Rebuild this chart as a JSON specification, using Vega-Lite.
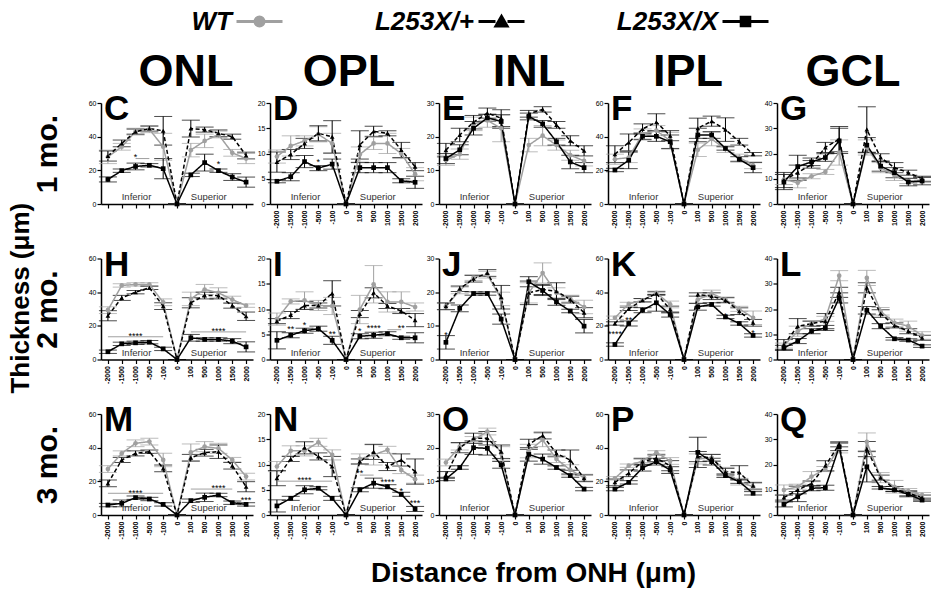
{
"$schema":"https://vega.github.io/schema/vega-lite/v6.json",
"padding":{"left":8,"top":8,"right":0,"bottom":2},
"title":{"text":"Thickness (μm)","orient":"left","anchor":"middle","fontSize":26,"font":"Liberation Sans","fontWeight":"bold","color":"#000000","offset":-2},
"columns":5,
"spacing":{"row":54.5,"column":17},
"bounds":"flush",
"resolve":{"scale":{"shape":"independent","fill":"independent","stroke":"independent"}},
"datasets":{
"io":[{"t":"Inferior","pos":"-1500","y":0},{"t":"Superior","pos":"100","y":0}],
"C":[
{"geno":"WT","pos":"-2000","mean":28,"sem":4},{"geno":"WT","pos":"-1500","mean":34,"sem":2},{"geno":"WT","pos":"-1000","mean":43,"sem":2},{"geno":"WT","pos":"-500","mean":44.4,"sem":2},{"geno":"WT","pos":"-100","mean":34,"sem":8},{"geno":"WT","pos":"0","mean":0,"sem":0},{"geno":"WT","pos":"100","mean":32,"sem":4},{"geno":"WT","pos":"500","mean":37.5,"sem":4},{"geno":"WT","pos":"1000","mean":41.3,"sem":2},{"geno":"WT","pos":"1500","mean":30.4,"sem":2},{"geno":"WT","pos":"2000","mean":27,"sem":3},
{"geno":"L253X/+","pos":"-2000","mean":28.5,"sem":3},{"geno":"L253X/+","pos":"-1500","mean":36,"sem":2},{"geno":"L253X/+","pos":"-1000","mean":43,"sem":1.5},{"geno":"L253X/+","pos":"-500","mean":44.8,"sem":1.5},{"geno":"L253X/+","pos":"-100","mean":43.5,"sem":8.5},{"geno":"L253X/+","pos":"0","mean":0,"sem":0},{"geno":"L253X/+","pos":"100","mean":44.8,"sem":5},{"geno":"L253X/+","pos":"500","mean":44.2,"sem":1.5},{"geno":"L253X/+","pos":"1000","mean":42,"sem":2},{"geno":"L253X/+","pos":"1500","mean":40,"sem":1.5},{"geno":"L253X/+","pos":"2000","mean":28.8,"sem":2},
{"geno":"L253X/X","pos":"-2000","mean":14.6,"sem":1.5},{"geno":"L253X/X","pos":"-1500","mean":19.8,"sem":1},{"geno":"L253X/X","pos":"-1000","mean":22.3,"sem":2},{"geno":"L253X/X","pos":"-500","mean":23,"sem":1},{"geno":"L253X/X","pos":"-100","mean":21,"sem":6},{"geno":"L253X/X","pos":"0","mean":0,"sem":0},{"geno":"L253X/X","pos":"100","mean":17.3,"sem":1},{"geno":"L253X/X","pos":"500","mean":24.6,"sem":5},{"geno":"L253X/X","pos":"1000","mean":19.8,"sem":1},{"geno":"L253X/X","pos":"1500","mean":16,"sem":2},{"geno":"L253X/X","pos":"2000","mean":13,"sem":3}],
"D":[
{"geno":"WT","pos":"-2000","mean":9.4,"sem":1.3},{"geno":"WT","pos":"-1500","mean":11.5,"sem":2},{"geno":"WT","pos":"-1000","mean":12.5,"sem":1},{"geno":"WT","pos":"-500","mean":13.8,"sem":1.5},{"geno":"WT","pos":"-100","mean":12,"sem":2},{"geno":"WT","pos":"0","mean":0,"sem":0},{"geno":"WT","pos":"100","mean":9.8,"sem":1.5},{"geno":"WT","pos":"500","mean":12,"sem":1.2},{"geno":"WT","pos":"1000","mean":12,"sem":2},{"geno":"WT","pos":"1500","mean":10,"sem":1},{"geno":"WT","pos":"2000","mean":5.9,"sem":1.3},
{"geno":"L253X/+","pos":"-2000","mean":8.3,"sem":2},{"geno":"L253X/+","pos":"-1500","mean":9.8,"sem":1},{"geno":"L253X/+","pos":"-1000","mean":12,"sem":1},{"geno":"L253X/+","pos":"-500","mean":14,"sem":1.5},{"geno":"L253X/+","pos":"-100","mean":13.3,"sem":3.2},{"geno":"L253X/+","pos":"0","mean":0,"sem":0},{"geno":"L253X/+","pos":"100","mean":11.7,"sem":2.8},{"geno":"L253X/+","pos":"500","mean":14.4,"sem":1},{"geno":"L253X/+","pos":"1000","mean":14,"sem":0.5},{"geno":"L253X/+","pos":"1500","mean":10.7,"sem":1.5},{"geno":"L253X/+","pos":"2000","mean":7.4,"sem":0.8},
{"geno":"L253X/X","pos":"-2000","mean":4.5,"sem":0.3},{"geno":"L253X/X","pos":"-1500","mean":5.4,"sem":0.8},{"geno":"L253X/X","pos":"-1000","mean":8.4,"sem":1.2},{"geno":"L253X/X","pos":"-500","mean":7.1,"sem":0.5},{"geno":"L253X/X","pos":"-100","mean":7.9,"sem":1},{"geno":"L253X/X","pos":"0","mean":0,"sem":0},{"geno":"L253X/X","pos":"100","mean":7.2,"sem":1},{"geno":"L253X/X","pos":"500","mean":7.2,"sem":1},{"geno":"L253X/X","pos":"1000","mean":7.2,"sem":1},{"geno":"L253X/X","pos":"1500","mean":4.6,"sem":0.4},{"geno":"L253X/X","pos":"2000","mean":4.3,"sem":1.2}],
"E":[
{"geno":"WT","pos":"-2000","mean":13,"sem":1.5},{"geno":"WT","pos":"-1500","mean":14.8,"sem":1.5},{"geno":"WT","pos":"-1000","mean":23.8,"sem":2},{"geno":"WT","pos":"-500","mean":24.8,"sem":2},{"geno":"WT","pos":"-100","mean":22.5,"sem":4},{"geno":"WT","pos":"0","mean":0,"sem":0},{"geno":"WT","pos":"100","mean":17.5,"sem":2},{"geno":"WT","pos":"500","mean":20.3,"sem":3},{"geno":"WT","pos":"1000","mean":17.5,"sem":1.5},{"geno":"WT","pos":"1500","mean":14.5,"sem":1.5},{"geno":"WT","pos":"2000","mean":12.8,"sem":1.5},
{"geno":"L253X/+","pos":"-2000","mean":16,"sem":2},{"geno":"L253X/+","pos":"-1500","mean":20.5,"sem":2},{"geno":"L253X/+","pos":"-1000","mean":24.3,"sem":2},{"geno":"L253X/+","pos":"-500","mean":27,"sem":1.5},{"geno":"L253X/+","pos":"-100","mean":25.5,"sem":2.5},{"geno":"L253X/+","pos":"0","mean":0,"sem":0},{"geno":"L253X/+","pos":"100","mean":26.8,"sem":1},{"geno":"L253X/+","pos":"500","mean":28.1,"sem":0.8},{"geno":"L253X/+","pos":"1000","mean":23.5,"sem":1},{"geno":"L253X/+","pos":"1500","mean":18.8,"sem":1.5},{"geno":"L253X/+","pos":"2000","mean":15.8,"sem":1.5},
{"geno":"L253X/X","pos":"-2000","mean":13.5,"sem":1.5},{"geno":"L253X/X","pos":"-1500","mean":16.1,"sem":1.5},{"geno":"L253X/X","pos":"-1000","mean":22.5,"sem":2},{"geno":"L253X/X","pos":"-500","mean":25.6,"sem":1},{"geno":"L253X/X","pos":"-100","mean":24.5,"sem":2},{"geno":"L253X/X","pos":"0","mean":0,"sem":0},{"geno":"L253X/X","pos":"100","mean":26,"sem":1},{"geno":"L253X/X","pos":"500","mean":23.8,"sem":1},{"geno":"L253X/X","pos":"1000","mean":18.5,"sem":1},{"geno":"L253X/X","pos":"1500","mean":12.5,"sem":2},{"geno":"L253X/X","pos":"2000","mean":10.8,"sem":1.5}],
"F":[
{"geno":"WT","pos":"-2000","mean":26.6,"sem":3},{"geno":"WT","pos":"-1500","mean":27.6,"sem":3},{"geno":"WT","pos":"-1000","mean":41.6,"sem":3},{"geno":"WT","pos":"-500","mean":43.6,"sem":3},{"geno":"WT","pos":"-100","mean":37.6,"sem":5},{"geno":"WT","pos":"0","mean":0,"sem":0},{"geno":"WT","pos":"100","mean":32.2,"sem":4},{"geno":"WT","pos":"500","mean":38.6,"sem":4},{"geno":"WT","pos":"1000","mean":32.6,"sem":2},{"geno":"WT","pos":"1500","mean":27.6,"sem":2},{"geno":"WT","pos":"2000","mean":23,"sem":2},
{"geno":"L253X/+","pos":"-2000","mean":29.6,"sem":5},{"geno":"L253X/+","pos":"-1500","mean":36.6,"sem":5},{"geno":"L253X/+","pos":"-1000","mean":44.6,"sem":3},{"geno":"L253X/+","pos":"-500","mean":48.6,"sem":5},{"geno":"L253X/+","pos":"-100","mean":40.6,"sem":3},{"geno":"L253X/+","pos":"0","mean":0,"sem":0},{"geno":"L253X/+","pos":"100","mean":45,"sem":6},{"geno":"L253X/+","pos":"500","mean":49.2,"sem":3},{"geno":"L253X/+","pos":"1000","mean":44.2,"sem":7},{"geno":"L253X/+","pos":"1500","mean":37,"sem":2},{"geno":"L253X/+","pos":"2000","mean":29.6,"sem":1},
{"geno":"L253X/X","pos":"-2000","mean":20.2,"sem":1},{"geno":"L253X/X","pos":"-1500","mean":26,"sem":5},{"geno":"L253X/X","pos":"-1000","mean":40.2,"sem":2},{"geno":"L253X/X","pos":"-500","mean":40.2,"sem":3},{"geno":"L253X/X","pos":"-100","mean":37,"sem":4},{"geno":"L253X/X","pos":"0","mean":0,"sem":0},{"geno":"L253X/X","pos":"100","mean":41,"sem":4},{"geno":"L253X/X","pos":"500","mean":41,"sem":2},{"geno":"L253X/X","pos":"1000","mean":33,"sem":1},{"geno":"L253X/X","pos":"1500","mean":26.6,"sem":1.5},{"geno":"L253X/X","pos":"2000","mean":21.6,"sem":3}],
"G":[
{"geno":"WT","pos":"-2000","mean":9.7,"sem":2},{"geno":"WT","pos":"-1500","mean":8.4,"sem":2},{"geno":"WT","pos":"-1000","mean":11,"sem":1},{"geno":"WT","pos":"-500","mean":12.7,"sem":1},{"geno":"WT","pos":"-100","mean":20.4,"sem":5},{"geno":"WT","pos":"0","mean":0,"sem":0},{"geno":"WT","pos":"100","mean":22.4,"sem":3},{"geno":"WT","pos":"500","mean":14.4,"sem":2},{"geno":"WT","pos":"1000","mean":11.3,"sem":2},{"geno":"WT","pos":"1500","mean":9.1,"sem":1},{"geno":"WT","pos":"2000","mean":9.5,"sem":1},
{"geno":"L253X/+","pos":"-2000","mean":9.5,"sem":3},{"geno":"L253X/+","pos":"-1500","mean":12.4,"sem":3},{"geno":"L253X/+","pos":"-1000","mean":15.7,"sem":1.5},{"geno":"L253X/+","pos":"-500","mean":22.4,"sem":2},{"geno":"L253X/+","pos":"-100","mean":25.7,"sem":5},{"geno":"L253X/+","pos":"0","mean":0,"sem":0},{"geno":"L253X/+","pos":"100","mean":29.5,"sem":9},{"geno":"L253X/+","pos":"500","mean":18.4,"sem":1.5},{"geno":"L253X/+","pos":"1000","mean":14.4,"sem":2},{"geno":"L253X/+","pos":"1500","mean":12.4,"sem":1},{"geno":"L253X/+","pos":"2000","mean":10,"sem":1},
{"geno":"L253X/X","pos":"-2000","mean":8.7,"sem":3},{"geno":"L253X/X","pos":"-1500","mean":14.8,"sem":4.5},{"geno":"L253X/X","pos":"-1000","mean":16.7,"sem":1.5},{"geno":"L253X/X","pos":"-500","mean":18.4,"sem":1.5},{"geno":"L253X/X","pos":"-100","mean":25,"sem":5},{"geno":"L253X/X","pos":"0","mean":0,"sem":0},{"geno":"L253X/X","pos":"100","mean":23.3,"sem":3},{"geno":"L253X/X","pos":"500","mean":15,"sem":2},{"geno":"L253X/X","pos":"1000","mean":12.4,"sem":2},{"geno":"L253X/X","pos":"1500","mean":8.7,"sem":1.5},{"geno":"L253X/X","pos":"2000","mean":9.1,"sem":1.5}],
"H":[
{"geno":"WT","pos":"-2000","mean":29.3,"sem":2},{"geno":"WT","pos":"-1500","mean":44,"sem":1},{"geno":"WT","pos":"-1000","mean":44.6,"sem":1},{"geno":"WT","pos":"-500","mean":44.6,"sem":1},{"geno":"WT","pos":"-100","mean":34,"sem":2},{"geno":"WT","pos":"0","mean":0,"sem":0},{"geno":"WT","pos":"100","mean":36,"sem":4},{"geno":"WT","pos":"500","mean":41.6,"sem":3},{"geno":"WT","pos":"1000","mean":39.6,"sem":3},{"geno":"WT","pos":"1500","mean":35.6,"sem":2},{"geno":"WT","pos":"2000","mean":32,"sem":1},
{"geno":"L253X/+","pos":"-2000","mean":26,"sem":3},{"geno":"L253X/+","pos":"-1500","mean":36.6,"sem":1.5},{"geno":"L253X/+","pos":"-1000","mean":40,"sem":1},{"geno":"L253X/+","pos":"-500","mean":42.6,"sem":1},{"geno":"L253X/+","pos":"-100","mean":31.7,"sem":2},{"geno":"L253X/+","pos":"0","mean":0,"sem":0},{"geno":"L253X/+","pos":"100","mean":33.7,"sem":3},{"geno":"L253X/+","pos":"500","mean":38,"sem":2},{"geno":"L253X/+","pos":"1000","mean":38,"sem":2},{"geno":"L253X/+","pos":"1500","mean":32,"sem":1.5},{"geno":"L253X/+","pos":"2000","mean":25.7,"sem":2.5},
{"geno":"L253X/X","pos":"-2000","mean":4.6,"sem":1},{"geno":"L253X/X","pos":"-1500","mean":9.3,"sem":1},{"geno":"L253X/X","pos":"-1000","mean":9.9,"sem":1},{"geno":"L253X/X","pos":"-500","mean":10.3,"sem":1},{"geno":"L253X/X","pos":"-100","mean":6.3,"sem":1},{"geno":"L253X/X","pos":"0","mean":0,"sem":0},{"geno":"L253X/X","pos":"100","mean":12.9,"sem":2},{"geno":"L253X/X","pos":"500","mean":11.9,"sem":1},{"geno":"L253X/X","pos":"1000","mean":11.9,"sem":1},{"geno":"L253X/X","pos":"1500","mean":10.9,"sem":1.5},{"geno":"L253X/X","pos":"2000","mean":7.5,"sem":3}],
"I":[
{"geno":"WT","pos":"-2000","mean":8,"sem":1.2},{"geno":"WT","pos":"-1500","mean":11.5,"sem":0.5},{"geno":"WT","pos":"-1000","mean":11.7,"sem":1.7},{"geno":"WT","pos":"-500","mean":10.7,"sem":1},{"geno":"WT","pos":"-100","mean":10.6,"sem":1.7},{"geno":"WT","pos":"0","mean":0,"sem":0},{"geno":"WT","pos":"100","mean":9.9,"sem":2.8},{"geno":"WT","pos":"500","mean":14.9,"sem":3.7},{"geno":"WT","pos":"1000","mean":11.4,"sem":2},{"geno":"WT","pos":"1500","mean":11.4,"sem":2},{"geno":"WT","pos":"2000","mean":10.4,"sem":0.8},
{"geno":"L253X/+","pos":"-2000","mean":7.6,"sem":0.5},{"geno":"L253X/+","pos":"-1500","mean":8.8,"sem":0.7},{"geno":"L253X/+","pos":"-1000","mean":10.7,"sem":0.8},{"geno":"L253X/+","pos":"-500","mean":10.7,"sem":0.5},{"geno":"L253X/+","pos":"-100","mean":13.1,"sem":2.5},{"geno":"L253X/+","pos":"0","mean":0,"sem":0},{"geno":"L253X/+","pos":"100","mean":9,"sem":0.7},{"geno":"L253X/+","pos":"500","mean":13.2,"sem":1},{"geno":"L253X/+","pos":"1000","mean":10.6,"sem":0.5},{"geno":"L253X/+","pos":"1500","mean":9.6,"sem":0.5},{"geno":"L253X/+","pos":"2000","mean":7.8,"sem":1.3},
{"geno":"L253X/X","pos":"-2000","mean":3.8,"sem":1.7},{"geno":"L253X/X","pos":"-1500","mean":4.8,"sem":0.5},{"geno":"L253X/X","pos":"-1000","mean":5.7,"sem":0.5},{"geno":"L253X/X","pos":"-500","mean":6.1,"sem":0.5},{"geno":"L253X/X","pos":"-100","mean":3.8,"sem":0.8},{"geno":"L253X/X","pos":"0","mean":0,"sem":0},{"geno":"L253X/X","pos":"100","mean":4.6,"sem":0.5},{"geno":"L253X/X","pos":"500","mean":4.8,"sem":0.6},{"geno":"L253X/X","pos":"1000","mean":5.1,"sem":0.4},{"geno":"L253X/X","pos":"1500","mean":4.3,"sem":0.3},{"geno":"L253X/X","pos":"2000","mean":4.3,"sem":1}],
"J":[
{"geno":"WT","pos":"-2000","mean":15.8,"sem":1},{"geno":"WT","pos":"-1500","mean":20.5,"sem":1},{"geno":"WT","pos":"-1000","mean":24.3,"sem":0.8},{"geno":"WT","pos":"-500","mean":25.2,"sem":1},{"geno":"WT","pos":"-100","mean":18,"sem":2},{"geno":"WT","pos":"0","mean":0,"sem":0},{"geno":"WT","pos":"100","mean":19.8,"sem":3},{"geno":"WT","pos":"500","mean":25.7,"sem":3},{"geno":"WT","pos":"1000","mean":19.8,"sem":1.5},{"geno":"WT","pos":"1500","mean":18.1,"sem":1},{"geno":"WT","pos":"2000","mean":15.6,"sem":2},
{"geno":"L253X/+","pos":"-2000","mean":15.8,"sem":1},{"geno":"L253X/+","pos":"-1500","mean":21,"sem":0.8},{"geno":"L253X/+","pos":"-1000","mean":24,"sem":1},{"geno":"L253X/+","pos":"-500","mean":25.7,"sem":1},{"geno":"L253X/+","pos":"-100","mean":18.5,"sem":3.5},{"geno":"L253X/+","pos":"0","mean":0,"sem":0},{"geno":"L253X/+","pos":"100","mean":19.8,"sem":3.5},{"geno":"L253X/+","pos":"500","mean":20.8,"sem":1.5},{"geno":"L253X/+","pos":"1000","mean":20.3,"sem":2.5},{"geno":"L253X/+","pos":"1500","mean":17.8,"sem":1},{"geno":"L253X/+","pos":"2000","mean":13.9,"sem":1.5},
{"geno":"L253X/X","pos":"-2000","mean":5.1,"sem":2},{"geno":"L253X/X","pos":"-1500","mean":15.2,"sem":1},{"geno":"L253X/X","pos":"-1000","mean":19.6,"sem":0.5},{"geno":"L253X/X","pos":"-500","mean":19.6,"sem":0.5},{"geno":"L253X/X","pos":"-100","mean":12,"sem":1.5},{"geno":"L253X/X","pos":"0","mean":0,"sem":0},{"geno":"L253X/X","pos":"100","mean":23.1,"sem":1.5},{"geno":"L253X/X","pos":"500","mean":20.5,"sem":1.5},{"geno":"L253X/X","pos":"1000","mean":17.1,"sem":1},{"geno":"L253X/X","pos":"1500","mean":14.4,"sem":0.5},{"geno":"L253X/X","pos":"2000","mean":9.9,"sem":2}],
"K":[
{"geno":"WT","pos":"-2000","mean":24.8,"sem":1},{"geno":"WT","pos":"-1500","mean":33,"sem":1},{"geno":"WT","pos":"-1000","mean":35.2,"sem":1},{"geno":"WT","pos":"-500","mean":39.6,"sem":1},{"geno":"WT","pos":"-100","mean":32.7,"sem":2},{"geno":"WT","pos":"0","mean":0,"sem":0},{"geno":"WT","pos":"100","mean":35.6,"sem":2},{"geno":"WT","pos":"500","mean":39.2,"sem":2},{"geno":"WT","pos":"1000","mean":35.6,"sem":1.5},{"geno":"WT","pos":"1500","mean":30.1,"sem":1.5},{"geno":"WT","pos":"2000","mean":24.8,"sem":4},
{"geno":"L253X/+","pos":"-2000","mean":21.4,"sem":1},{"geno":"L253X/+","pos":"-1500","mean":30.1,"sem":1},{"geno":"L253X/+","pos":"-1000","mean":35.2,"sem":1},{"geno":"L253X/+","pos":"-500","mean":39.2,"sem":1},{"geno":"L253X/+","pos":"-100","mean":29.7,"sem":2},{"geno":"L253X/+","pos":"0","mean":0,"sem":0},{"geno":"L253X/+","pos":"100","mean":38.6,"sem":1},{"geno":"L253X/+","pos":"500","mean":37.6,"sem":2},{"geno":"L253X/+","pos":"1000","mean":35.2,"sem":1.5},{"geno":"L253X/+","pos":"1500","mean":28.7,"sem":2},{"geno":"L253X/+","pos":"2000","mean":21.8,"sem":2},
{"geno":"L253X/X","pos":"-2000","mean":8.9,"sem":1},{"geno":"L253X/X","pos":"-1500","mean":21.4,"sem":1.5},{"geno":"L253X/X","pos":"-1000","mean":29.3,"sem":1.5},{"geno":"L253X/X","pos":"-500","mean":33.7,"sem":5},{"geno":"L253X/X","pos":"-100","mean":26.7,"sem":1.5},{"geno":"L253X/X","pos":"0","mean":0,"sem":0},{"geno":"L253X/X","pos":"100","mean":31.3,"sem":2},{"geno":"L253X/X","pos":"500","mean":32.7,"sem":1},{"geno":"L253X/X","pos":"1000","mean":25.3,"sem":1},{"geno":"L253X/X","pos":"1500","mean":21.4,"sem":1},{"geno":"L253X/X","pos":"2000","mean":14.3,"sem":1}],
"L":[
{"geno":"WT","pos":"-2000","mean":5.5,"sem":1},{"geno":"WT","pos":"-1500","mean":11.2,"sem":2},{"geno":"WT","pos":"-1000","mean":14.2,"sem":1},{"geno":"WT","pos":"-500","mean":16.1,"sem":1},{"geno":"WT","pos":"-100","mean":33.2,"sem":2},{"geno":"WT","pos":"0","mean":0,"sem":0},{"geno":"WT","pos":"100","mean":32.3,"sem":3},{"geno":"WT","pos":"500","mean":19.1,"sem":1.5},{"geno":"WT","pos":"1000","mean":14.5,"sem":1.5},{"geno":"WT","pos":"1500","mean":13.2,"sem":2},{"geno":"WT","pos":"2000","mean":9.5,"sem":1.5},
{"geno":"L253X/+","pos":"-2000","mean":5.9,"sem":2},{"geno":"L253X/+","pos":"-1500","mean":13.2,"sem":3},{"geno":"L253X/+","pos":"-1000","mean":14.2,"sem":1},{"geno":"L253X/+","pos":"-500","mean":15.2,"sem":3},{"geno":"L253X/+","pos":"-100","mean":26.6,"sem":2},{"geno":"L253X/+","pos":"0","mean":0,"sem":0},{"geno":"L253X/+","pos":"100","mean":28.4,"sem":2},{"geno":"L253X/+","pos":"500","mean":18.2,"sem":1.5},{"geno":"L253X/+","pos":"1000","mean":13.5,"sem":1},{"geno":"L253X/+","pos":"1500","mean":11.2,"sem":1},{"geno":"L253X/+","pos":"2000","mean":8.6,"sem":1},
{"geno":"L253X/X","pos":"-2000","mean":4.6,"sem":1},{"geno":"L253X/X","pos":"-1500","mean":7.3,"sem":1},{"geno":"L253X/X","pos":"-1000","mean":11.2,"sem":1},{"geno":"L253X/X","pos":"-500","mean":12.5,"sem":1},{"geno":"L253X/X","pos":"-100","mean":24.4,"sem":2},{"geno":"L253X/X","pos":"0","mean":0,"sem":0},{"geno":"L253X/X","pos":"100","mean":19.5,"sem":1.5},{"geno":"L253X/X","pos":"500","mean":13.2,"sem":1},{"geno":"L253X/X","pos":"1000","mean":8.2,"sem":0.5},{"geno":"L253X/X","pos":"1500","mean":7.7,"sem":0.5},{"geno":"L253X/X","pos":"2000","mean":5.3,"sem":0.5}],
"M":[
{"geno":"WT","pos":"-2000","mean":27.3,"sem":2},{"geno":"WT","pos":"-1500","mean":36.6,"sem":1.5},{"geno":"WT","pos":"-1000","mean":42.6,"sem":2},{"geno":"WT","pos":"-500","mean":43.6,"sem":2},{"geno":"WT","pos":"-100","mean":32.7,"sem":4},{"geno":"WT","pos":"0","mean":0,"sem":0},{"geno":"WT","pos":"100","mean":37.2,"sem":5},{"geno":"WT","pos":"500","mean":40.6,"sem":3},{"geno":"WT","pos":"1000","mean":39.6,"sem":3},{"geno":"WT","pos":"1500","mean":32.7,"sem":1.5},{"geno":"WT","pos":"2000","mean":22.8,"sem":2},
{"geno":"L253X/+","pos":"-2000","mean":18.8,"sem":2},{"geno":"L253X/+","pos":"-1500","mean":32.7,"sem":1.5},{"geno":"L253X/+","pos":"-1000","mean":36.6,"sem":1.5},{"geno":"L253X/+","pos":"-500","mean":37.6,"sem":1},{"geno":"L253X/+","pos":"-100","mean":27.7,"sem":2},{"geno":"L253X/+","pos":"0","mean":0,"sem":0},{"geno":"L253X/+","pos":"100","mean":34,"sem":2},{"geno":"L253X/+","pos":"500","mean":37,"sem":2},{"geno":"L253X/+","pos":"1000","mean":37.6,"sem":4},{"geno":"L253X/+","pos":"1500","mean":29.3,"sem":2},{"geno":"L253X/+","pos":"2000","mean":16.8,"sem":3},
{"geno":"L253X/X","pos":"-2000","mean":5.9,"sem":1},{"geno":"L253X/X","pos":"-1500","mean":6.9,"sem":2},{"geno":"L253X/X","pos":"-1000","mean":10.3,"sem":1},{"geno":"L253X/X","pos":"-500","mean":9.5,"sem":1},{"geno":"L253X/X","pos":"-100","mean":6.3,"sem":1},{"geno":"L253X/X","pos":"0","mean":0,"sem":0},{"geno":"L253X/X","pos":"100","mean":8.5,"sem":1},{"geno":"L253X/X","pos":"500","mean":10.5,"sem":2.5},{"geno":"L253X/X","pos":"1000","mean":11.9,"sem":1},{"geno":"L253X/X","pos":"1500","mean":7.3,"sem":1},{"geno":"L253X/X","pos":"2000","mean":6.3,"sem":1}],
"N":[
{"geno":"WT","pos":"-2000","mean":9.6,"sem":1},{"geno":"WT","pos":"-1500","mean":12.7,"sem":1},{"geno":"WT","pos":"-1000","mean":12.7,"sem":1},{"geno":"WT","pos":"-500","mean":14.4,"sem":0.8},{"geno":"WT","pos":"-100","mean":11.9,"sem":1},{"geno":"WT","pos":"0","mean":0,"sem":0},{"geno":"WT","pos":"100","mean":11.1,"sem":1},{"geno":"WT","pos":"500","mean":11.9,"sem":2},{"geno":"WT","pos":"1000","mean":12.9,"sem":0.7},{"geno":"WT","pos":"1500","mean":8.9,"sem":0.7},{"geno":"WT","pos":"2000","mean":7.1,"sem":0.8},
{"geno":"L253X/+","pos":"-2000","mean":7.3,"sem":1.5},{"geno":"L253X/+","pos":"-1500","mean":11.1,"sem":0.5},{"geno":"L253X/+","pos":"-1000","mean":13.3,"sem":1.2},{"geno":"L253X/+","pos":"-500","mean":11.6,"sem":0.7},{"geno":"L253X/+","pos":"-100","mean":9.6,"sem":2},{"geno":"L253X/+","pos":"0","mean":0,"sem":0},{"geno":"L253X/+","pos":"100","mean":10.6,"sem":0.5},{"geno":"L253X/+","pos":"500","mean":12.5,"sem":1.5},{"geno":"L253X/+","pos":"1000","mean":9.6,"sem":0.8},{"geno":"L253X/+","pos":"1500","mean":10.9,"sem":1.2},{"geno":"L253X/+","pos":"2000","mean":8.6,"sem":2.5},
{"geno":"L253X/X","pos":"-2000","mean":1.8,"sem":1.2},{"geno":"L253X/X","pos":"-1500","mean":3.3,"sem":0.4},{"geno":"L253X/X","pos":"-1000","mean":5,"sem":0.8},{"geno":"L253X/X","pos":"-500","mean":5.3,"sem":0.3},{"geno":"L253X/X","pos":"-100","mean":3.3,"sem":0.4},{"geno":"L253X/X","pos":"0","mean":0,"sem":0},{"geno":"L253X/X","pos":"100","mean":5,"sem":0.4},{"geno":"L253X/X","pos":"500","mean":6.3,"sem":1},{"geno":"L253X/X","pos":"1000","mean":5.6,"sem":0.4},{"geno":"L253X/X","pos":"1500","mean":4.1,"sem":0.4},{"geno":"L253X/X","pos":"2000","mean":1.2,"sem":0.5}],
"O":[
{"geno":"WT","pos":"-2000","mean":15.6,"sem":1},{"geno":"WT","pos":"-1500","mean":20.3,"sem":1},{"geno":"WT","pos":"-1000","mean":22.3,"sem":1},{"geno":"WT","pos":"-500","mean":24.8,"sem":1},{"geno":"WT","pos":"-100","mean":18.3,"sem":2},{"geno":"WT","pos":"0","mean":0,"sem":0},{"geno":"WT","pos":"100","mean":19,"sem":2},{"geno":"WT","pos":"500","mean":22.3,"sem":2},{"geno":"WT","pos":"1000","mean":16.6,"sem":1},{"geno":"WT","pos":"1500","mean":13.4,"sem":1.5},{"geno":"WT","pos":"2000","mean":11.1,"sem":1},
{"geno":"L253X/+","pos":"-2000","mean":11.9,"sem":1},{"geno":"L253X/+","pos":"-1500","mean":20,"sem":1.5},{"geno":"L253X/+","pos":"-1000","mean":22.8,"sem":1.5},{"geno":"L253X/+","pos":"-500","mean":22.8,"sem":2},{"geno":"L253X/+","pos":"-100","mean":18.8,"sem":2},{"geno":"L253X/+","pos":"0","mean":0,"sem":0},{"geno":"L253X/+","pos":"100","mean":21,"sem":1.5},{"geno":"L253X/+","pos":"500","mean":23.6,"sem":1},{"geno":"L253X/+","pos":"1000","mean":18.3,"sem":1},{"geno":"L253X/+","pos":"1500","mean":16.3,"sem":3},{"geno":"L253X/+","pos":"2000","mean":10.9,"sem":1},
{"geno":"L253X/X","pos":"-2000","mean":10.7,"sem":0.5},{"geno":"L253X/X","pos":"-1500","mean":14.1,"sem":0.5},{"geno":"L253X/X","pos":"-1000","mean":20,"sem":2},{"geno":"L253X/X","pos":"-500","mean":19.8,"sem":2},{"geno":"L253X/X","pos":"-100","mean":14.9,"sem":1},{"geno":"L253X/X","pos":"0","mean":0,"sem":0},{"geno":"L253X/X","pos":"100","mean":18,"sem":2},{"geno":"L253X/X","pos":"500","mean":16.6,"sem":1.5},{"geno":"L253X/X","pos":"1000","mean":14.1,"sem":0.5},{"geno":"L253X/X","pos":"1500","mean":11.7,"sem":0.5},{"geno":"L253X/X","pos":"2000","mean":7.7,"sem":0.5}],
"P":[
{"geno":"WT","pos":"-2000","mean":21.8,"sem":1},{"geno":"WT","pos":"-1500","mean":29.3,"sem":1},{"geno":"WT","pos":"-1000","mean":32.1,"sem":1},{"geno":"WT","pos":"-500","mean":37.2,"sem":1},{"geno":"WT","pos":"-100","mean":32.1,"sem":2},{"geno":"WT","pos":"0","mean":0,"sem":0},{"geno":"WT","pos":"100","mean":33.3,"sem":3},{"geno":"WT","pos":"500","mean":34,"sem":2},{"geno":"WT","pos":"1000","mean":25.3,"sem":3},{"geno":"WT","pos":"1500","mean":19.8,"sem":2},{"geno":"WT","pos":"2000","mean":16.8,"sem":2},
{"geno":"L253X/+","pos":"-2000","mean":19.4,"sem":2},{"geno":"L253X/+","pos":"-1500","mean":24.8,"sem":2},{"geno":"L253X/+","pos":"-1000","mean":31.7,"sem":2},{"geno":"L253X/+","pos":"-500","mean":33.7,"sem":2},{"geno":"L253X/+","pos":"-100","mean":29.3,"sem":3},{"geno":"L253X/+","pos":"0","mean":0,"sem":0},{"geno":"L253X/+","pos":"100","mean":34.7,"sem":3},{"geno":"L253X/+","pos":"500","mean":34,"sem":2},{"geno":"L253X/+","pos":"1000","mean":25.7,"sem":2},{"geno":"L253X/+","pos":"1500","mean":25.3,"sem":4},{"geno":"L253X/+","pos":"2000","mean":17.4,"sem":2},
{"geno":"L253X/X","pos":"-2000","mean":15.4,"sem":1},{"geno":"L253X/X","pos":"-1500","mean":19.4,"sem":1},{"geno":"L253X/X","pos":"-1000","mean":28.1,"sem":2},{"geno":"L253X/X","pos":"-500","mean":31.7,"sem":2},{"geno":"L253X/X","pos":"-100","mean":26.7,"sem":2},{"geno":"L253X/X","pos":"0","mean":0,"sem":0},{"geno":"L253X/X","pos":"100","mean":37.2,"sem":9},{"geno":"L253X/X","pos":"500","mean":31.7,"sem":2},{"geno":"L253X/X","pos":"1000","mean":23.4,"sem":1},{"geno":"L253X/X","pos":"1500","mean":19.8,"sem":1},{"geno":"L253X/X","pos":"2000","mean":12.9,"sem":1}],
"Q":[
{"geno":"WT","pos":"-2000","mean":9.9,"sem":2},{"geno":"WT","pos":"-1500","mean":11.2,"sem":1},{"geno":"WT","pos":"-1000","mean":15.2,"sem":2},{"geno":"WT","pos":"-500","mean":18.2,"sem":1},{"geno":"WT","pos":"-100","mean":26.6,"sem":2},{"geno":"WT","pos":"0","mean":0,"sem":0},{"geno":"WT","pos":"100","mean":29,"sem":3.5},{"geno":"WT","pos":"500","mean":14.8,"sem":2},{"geno":"WT","pos":"1000","mean":11.2,"sem":2.5},{"geno":"WT","pos":"1500","mean":9.5,"sem":1},{"geno":"WT","pos":"2000","mean":7.9,"sem":1},
{"geno":"L253X/+","pos":"-2000","mean":6.9,"sem":1},{"geno":"L253X/+","pos":"-1500","mean":9.9,"sem":1.5},{"geno":"L253X/+","pos":"-1000","mean":12.5,"sem":1},{"geno":"L253X/+","pos":"-500","mean":19.5,"sem":2},{"geno":"L253X/+","pos":"-100","mean":28,"sem":1},{"geno":"L253X/+","pos":"0","mean":0,"sem":0},{"geno":"L253X/+","pos":"100","mean":26.1,"sem":3},{"geno":"L253X/+","pos":"500","mean":14.8,"sem":1},{"geno":"L253X/+","pos":"1000","mean":10.3,"sem":1},{"geno":"L253X/+","pos":"1500","mean":8.6,"sem":1},{"geno":"L253X/+","pos":"2000","mean":6.9,"sem":1},
{"geno":"L253X/X","pos":"-2000","mean":4.2,"sem":1},{"geno":"L253X/X","pos":"-1500","mean":7.3,"sem":2},{"geno":"L253X/X","pos":"-1000","mean":10.6,"sem":1},{"geno":"L253X/X","pos":"-500","mean":10.8,"sem":1},{"geno":"L253X/X","pos":"-100","mean":27,"sem":1.5},{"geno":"L253X/X","pos":"0","mean":0,"sem":0},{"geno":"L253X/X","pos":"100","mean":19.1,"sem":6},{"geno":"L253X/X","pos":"500","mean":10.8,"sem":0.5},{"geno":"L253X/X","pos":"1000","mean":9.9,"sem":0.5},{"geno":"L253X/X","pos":"1500","mean":8.2,"sem":1},{"geno":"L253X/X","pos":"2000","mean":5.9,"sem":0.5}]
},
"concat":[
{"title":{"text":"ONL","fontSize":45,"font":"Liberation Sans","fontWeight":"bold","color":"#000000","offset":-3,"frame":"group","dx":9},
"width":152,"height":101,"data":{"name":"C"},
"encoding":{"x":{"field":"pos","type":"ordinal","sort":["-2000","-1500","-1000","-500","-100","0","100","500","1000","1500","2000"],"scale":{"type":"point","padding":0.5,"domain":["-2000","-1500","-1000","-500","-100","0","100","500","1000","1500","2000"]},"axis":{"title":null,"labels":false}},
"y":{"field":"mean","type":"quantitative","scale":{"domain":[0,60],"nice":false},"axis":{"values":[0,20,40,60],"title":"1 mo."}}},
"layer":[
{"mark":{"type":"errorbar","ticks":true},"encoding":{"yError":{"field":"sem"},"color":{"field":"geno","type":"nominal","scale":{"domain":["WT","L253X/+","L253X/X"],"range":["#a0a0a0","#000000","#000000"]},"legend":null}}},
{"mark":{"type":"line","strokeWidth":1.5},"encoding":{"color":{"field":"geno","type":"nominal","legend":null},"strokeDash":{"field":"geno","type":"nominal","scale":{"domain":["WT","L253X/+","L253X/X"],"range":[[1,0],[4,2.5],[1,0]]},"legend":null}}},
{"mark":{"type":"point","filled":true,"opacity":1,"size":22},"encoding":{"color":{"field":"geno","type":"nominal","legend":null},"shape":{"field":"geno","type":"nominal","scale":{"domain":["WT","L253X/+","L253X/X"],"range":["circle","triangle-up","square"]},"legend":null}}},
{"data":{"name":"io"},"mark":{"type":"text","align":"left","baseline":"alphabetic","dy":-4,"fontSize":9.5,"color":"#333333"},"encoding":{"y":{"field":"y","type":"quantitative"},"text":{"field":"t"}}},
{"data":{"values":[{"t":"C","pos":"-2000","y":60}]},"mark":{"type":"text","align":"left","baseline":"alphabetic","dx":-4,"dy":17,"fontSize":35,"fontWeight":"bold"},"encoding":{"y":{"field":"y","type":"quantitative"},"text":{"field":"t"}}},
{"data":{"values":[{"t":"*","pos":"-1000","y":29},{"t":"*","pos":"1000","y":25}]},"mark":{"type":"text","baseline":"middle","dy":2,"fontSize":9},"encoding":{"y":{"field":"y","type":"quantitative"},"text":{"field":"t"}}},
{"data":{"values":[{"pos":"-1000","pos2":"-500","y":27}]},"mark":{"type":"rule","color":"#888888","strokeWidth":0.8},"encoding":{"x2":{"field":"pos2"},"y":{"field":"y","type":"quantitative"}}}
]},
{"title":{"text":"OPL","fontSize":45,"font":"Liberation Sans","fontWeight":"bold","color":"#000000","offset":-3,"frame":"group","dx":3},
"width":152,"height":101,"data":{"name":"D"},
"encoding":{"x":{"field":"pos","type":"ordinal","sort":["-2000","-1500","-1000","-500","-100","0","100","500","1000","1500","2000"],"scale":{"type":"point","padding":0.5,"domain":["-2000","-1500","-1000","-500","-100","0","100","500","1000","1500","2000"]},"axis":{"title":null}},
"y":{"field":"mean","type":"quantitative","scale":{"domain":[0,20],"nice":false},"axis":{"values":[0,5,10,15,20],"title":null}}},
"layer":[
{"mark":{"type":"errorbar","ticks":true},"encoding":{"yError":{"field":"sem"},"color":{"field":"geno","type":"nominal","legend":null}}},
{"mark":{"type":"line","strokeWidth":1.5},"encoding":{"color":{"field":"geno","type":"nominal","legend":null},"strokeDash":{"field":"geno","type":"nominal","legend":null}}},
{"mark":{"type":"point","filled":true,"opacity":1,"size":22},"encoding":{"color":{"field":"geno","type":"nominal","legend":null},"shape":{"field":"geno","type":"nominal","scale":{"domain":["WT","L253X/+","L253X/X"],"range":["circle","triangle-up","square"]},"legend":null}}},
{"data":{"name":"io"},"mark":{"type":"text","align":"left","baseline":"alphabetic","dy":-4,"fontSize":9.5,"color":"#333333"},"encoding":{"y":{"field":"y","type":"quantitative"},"text":{"field":"t"}}},
{"data":{"values":[{"t":"D","pos":"-2000","y":20}]},"mark":{"type":"text","align":"left","baseline":"alphabetic","dx":-4,"dy":17,"fontSize":35,"fontWeight":"bold"},"encoding":{"y":{"field":"y","type":"quantitative"},"text":{"field":"t"}}},
{"data":{"values":[{"t":"*","pos":"-500","y":8.7}]},"mark":{"type":"text","baseline":"middle","dy":2,"fontSize":9},"encoding":{"y":{"field":"y","type":"quantitative"},"text":{"field":"t"}}}
]},
{"title":{"text":"INL","fontSize":45,"font":"Liberation Sans","fontWeight":"bold","color":"#000000","offset":-3,"frame":"group","dx":14},
"width":152,"height":101,"data":{"name":"E"},
"encoding":{"x":{"field":"pos","type":"ordinal","sort":["-2000","-1500","-1000","-500","-100","0","100","500","1000","1500","2000"],"scale":{"type":"point","padding":0.5,"domain":["-2000","-1500","-1000","-500","-100","0","100","500","1000","1500","2000"]},"axis":{"title":null}},
"y":{"field":"mean","type":"quantitative","scale":{"domain":[0,30],"nice":false},"axis":{"values":[0,10,20,30],"title":null}}},
"layer":[
{"mark":{"type":"errorbar","ticks":true},"encoding":{"yError":{"field":"sem"},"color":{"field":"geno","type":"nominal","legend":null}}},
{"mark":{"type":"line","strokeWidth":1.5},"encoding":{"color":{"field":"geno","type":"nominal","legend":null},"strokeDash":{"field":"geno","type":"nominal","legend":null}}},
{"mark":{"type":"point","filled":true,"opacity":1,"size":22},"encoding":{"color":{"field":"geno","type":"nominal","legend":null},"shape":{"field":"geno","type":"nominal","scale":{"domain":["WT","L253X/+","L253X/X"],"range":["circle","triangle-up","square"]},"legend":null}}},
{"data":{"name":"io"},"mark":{"type":"text","align":"left","baseline":"alphabetic","dy":-4,"fontSize":9.5,"color":"#333333"},"encoding":{"y":{"field":"y","type":"quantitative"},"text":{"field":"t"}}},
{"data":{"values":[{"t":"E","pos":"-2000","y":30}]},"mark":{"type":"text","align":"left","baseline":"alphabetic","dx":-4,"dy":17,"fontSize":35,"fontWeight":"bold"},"encoding":{"y":{"field":"y","type":"quantitative"},"text":{"field":"t"}}}
]},
{"title":{"text":"IPL","fontSize":45,"font":"Liberation Sans","fontWeight":"bold","color":"#000000","offset":-3,"frame":"group","dx":4},
"width":152,"height":101,"data":{"name":"F"},
"encoding":{"x":{"field":"pos","type":"ordinal","sort":["-2000","-1500","-1000","-500","-100","0","100","500","1000","1500","2000"],"scale":{"type":"point","padding":0.5,"domain":["-2000","-1500","-1000","-500","-100","0","100","500","1000","1500","2000"]},"axis":{"title":null}},
"y":{"field":"mean","type":"quantitative","scale":{"domain":[0,60],"nice":false},"axis":{"values":[0,20,40,60],"title":null}}},
"layer":[
{"mark":{"type":"errorbar","ticks":true},"encoding":{"yError":{"field":"sem"},"color":{"field":"geno","type":"nominal","legend":null}}},
{"mark":{"type":"line","strokeWidth":1.5},"encoding":{"color":{"field":"geno","type":"nominal","legend":null},"strokeDash":{"field":"geno","type":"nominal","legend":null}}},
{"mark":{"type":"point","filled":true,"opacity":1,"size":22},"encoding":{"color":{"field":"geno","type":"nominal","legend":null},"shape":{"field":"geno","type":"nominal","scale":{"domain":["WT","L253X/+","L253X/X"],"range":["circle","triangle-up","square"]},"legend":null}}},
{"data":{"name":"io"},"mark":{"type":"text","align":"left","baseline":"alphabetic","dy":-4,"fontSize":9.5,"color":"#333333"},"encoding":{"y":{"field":"y","type":"quantitative"},"text":{"field":"t"}}},
{"data":{"values":[{"t":"F","pos":"-2000","y":60}]},"mark":{"type":"text","align":"left","baseline":"alphabetic","dx":-4,"dy":17,"fontSize":35,"fontWeight":"bold"},"encoding":{"y":{"field":"y","type":"quantitative"},"text":{"field":"t"}}}
]},
{"title":{"text":"GCL","fontSize":45,"font":"Liberation Sans","fontWeight":"bold","color":"#000000","offset":-3,"frame":"group","dx":0},
"width":152,"height":101,"data":{"name":"G"},
"encoding":{"x":{"field":"pos","type":"ordinal","sort":["-2000","-1500","-1000","-500","-100","0","100","500","1000","1500","2000"],"scale":{"type":"point","padding":0.5,"domain":["-2000","-1500","-1000","-500","-100","0","100","500","1000","1500","2000"]},"axis":{"title":null}},
"y":{"field":"mean","type":"quantitative","scale":{"domain":[0,40],"nice":false},"axis":{"values":[0,10,20,30,40],"title":null}}},
"layer":[
{"mark":{"type":"errorbar","ticks":true},"encoding":{"yError":{"field":"sem"},"color":{"field":"geno","type":"nominal","legend":null}}},
{"mark":{"type":"line","strokeWidth":1.5},"encoding":{"color":{"field":"geno","type":"nominal","legend":null},"strokeDash":{"field":"geno","type":"nominal","legend":null}}},
{"mark":{"type":"point","filled":true,"opacity":1,"size":22},"encoding":{"color":{"field":"geno","type":"nominal","legend":null},"shape":{"field":"geno","type":"nominal","scale":{"domain":["WT","L253X/+","L253X/X"],"range":["circle","triangle-up","square"]},"legend":null}}},
{"data":{"name":"io"},"mark":{"type":"text","align":"left","baseline":"alphabetic","dy":-4,"fontSize":9.5,"color":"#333333"},"encoding":{"y":{"field":"y","type":"quantitative"},"text":{"field":"t"}}},
{"data":{"values":[{"t":"G","pos":"-2000","y":40}]},"mark":{"type":"text","align":"left","baseline":"alphabetic","dx":-4,"dy":17,"fontSize":35,"fontWeight":"bold"},"encoding":{"y":{"field":"y","type":"quantitative"},"text":{"field":"t"}}}
]},
{"width":152,"height":101,"data":{"name":"H"},
"resolve":{"scale":{"shape":"independent","fill":"independent","stroke":"independent"}},
"encoding":{"x":{"field":"pos","type":"ordinal","sort":["-2000","-1500","-1000","-500","-100","0","100","500","1000","1500","2000"],"scale":{"type":"point","padding":0.5,"domain":["-2000","-1500","-1000","-500","-100","0","100","500","1000","1500","2000"]},"axis":{"title":null}},
"y":{"field":"mean","type":"quantitative","scale":{"domain":[0,60],"nice":false},"axis":{"values":[0,20,40,60],"title":"2 mo."}}},
"layer":[
{"mark":{"type":"errorbar","ticks":true},"encoding":{"yError":{"field":"sem"},"color":{"field":"geno","type":"nominal","legend":null}}},
{"mark":{"type":"line","strokeWidth":1.5},"encoding":{"color":{"field":"geno","type":"nominal","legend":null},"strokeDash":{"field":"geno","type":"nominal","legend":null}}},
{"mark":{"type":"point","filled":true,"opacity":1,"size":22},"encoding":{"color":{"field":"geno","type":"nominal","legend":null},"shape":{"field":"geno","type":"nominal","scale":{"domain":["WT","L253X/+","L253X/X"],"range":["circle","triangle-up","square"]},"legend":null}}},
{"data":{"name":"io"},"mark":{"type":"text","align":"left","baseline":"alphabetic","dy":-4,"fontSize":9.5,"color":"#333333"},"encoding":{"y":{"field":"y","type":"quantitative"},"text":{"field":"t"}}},
{"data":{"values":[{"t":"H","pos":"-2000","y":60}]},"mark":{"type":"text","align":"left","baseline":"alphabetic","dx":-4,"dy":17,"fontSize":35,"fontWeight":"bold"},"encoding":{"y":{"field":"y","type":"quantitative"},"text":{"field":"t"}}},
{"data":{"values":[{"t":"****","pos":"-1000","y":15},{"t":"****","pos":"1000","y":18}]},"mark":{"type":"text","baseline":"middle","dy":2,"fontSize":9},"encoding":{"y":{"field":"y","type":"quantitative"},"text":{"field":"t"}}},
{"data":{"values":[{"pos":"-2000","pos2":"-100","y":13.5},{"pos":"100","pos2":"2000","y":16.4}]},"mark":{"type":"rule","color":"#888888","strokeWidth":0.8},"encoding":{"x2":{"field":"pos2"},"y":{"field":"y","type":"quantitative"}}},
{"data":{"values":[{"geno":"WT"},{"geno":"L253X/+"},{"geno":"L253X/X"}]},"transform":[{"filter":"false"}],"mark":{"type":"point","filled":true,"opacity":1},
"encoding":{"x":{"field":"geno","type":"ordinal"},"y":{"field":"mean","type":"quantitative"},
"fill":{"field":"geno","type":"nominal","scale":{"domain":["WT","L253X/+","L253X/X"],"range":["#a0a0a0","#000000","#000000"]},"legend":{"title":null,"orient":"none","legendX":145.5,"legendY":-250,"direction":"horizontal","symbolSize":400,"symbolStrokeWidth":3,"labelFont":"Liberation Sans","labelFontSize":26,"labelFontStyle":"italic","labelFontWeight":"bold","labelColor":"#000000","labelAlign":"right","labelOffset":-40.5,"columnPadding":86,"labelLimit":300}},
"stroke":{"field":"geno","type":"nominal","scale":{"domain":["WT","L253X/+","L253X/X"],"range":["#a0a0a0","#000000","#000000"]},"legend":{"title":null,"orient":"none","legendX":145.5,"legendY":-250,"direction":"horizontal","symbolSize":400,"symbolStrokeWidth":3,"labelFont":"Liberation Sans","labelFontSize":26,"labelFontStyle":"italic","labelFontWeight":"bold","labelColor":"#000000","labelAlign":"right","labelOffset":-40.5,"columnPadding":86,"labelLimit":300}},
"shape":{"field":"geno","type":"nominal","scale":{"domain":["WT","L253X/+","L253X/X"],"range":["M-2.3,0H2.3M0.45,0A0.45,0.45 0 1,1 -0.45,0A0.45,0.45 0 1,1 0.45,0Z","M-2.3,0H-0.6M0.6,0H2.3M-0.55,0.45L0,-0.5L0.55,0.45Z","M-2.3,0H2.3M-0.43,-0.43H0.43V0.43H-0.43Z"]},"legend":{"title":null,"orient":"none","legendX":145.5,"legendY":-250,"direction":"horizontal","symbolSize":400,"symbolStrokeWidth":3,"labelFont":"Liberation Sans","labelFontSize":26,"labelFontStyle":"italic","labelFontWeight":"bold","labelColor":"#000000","labelAlign":"right","labelOffset":-40.5,"columnPadding":86,"labelLimit":300}}}}
]},
{"width":152,"height":101,"data":{"name":"I"},
"encoding":{"x":{"field":"pos","type":"ordinal","sort":["-2000","-1500","-1000","-500","-100","0","100","500","1000","1500","2000"],"scale":{"type":"point","padding":0.5,"domain":["-2000","-1500","-1000","-500","-100","0","100","500","1000","1500","2000"]},"axis":{"title":null}},
"y":{"field":"mean","type":"quantitative","scale":{"domain":[0,20],"nice":false},"axis":{"values":[0,5,10,15,20],"title":null}}},
"layer":[
{"mark":{"type":"errorbar","ticks":true},"encoding":{"yError":{"field":"sem"},"color":{"field":"geno","type":"nominal","legend":null}}},
{"mark":{"type":"line","strokeWidth":1.5},"encoding":{"color":{"field":"geno","type":"nominal","legend":null},"strokeDash":{"field":"geno","type":"nominal","legend":null}}},
{"mark":{"type":"point","filled":true,"opacity":1,"size":22},"encoding":{"color":{"field":"geno","type":"nominal","legend":null},"shape":{"field":"geno","type":"nominal","scale":{"domain":["WT","L253X/+","L253X/X"],"range":["circle","triangle-up","square"]},"legend":null}}},
{"data":{"name":"io"},"mark":{"type":"text","align":"left","baseline":"alphabetic","dy":-4,"fontSize":9.5,"color":"#333333"},"encoding":{"y":{"field":"y","type":"quantitative"},"text":{"field":"t"}}},
{"data":{"values":[{"t":"I","pos":"-2000","y":20}]},"mark":{"type":"text","align":"left","baseline":"alphabetic","dx":-4,"dy":17,"fontSize":35,"fontWeight":"bold"},"encoding":{"y":{"field":"y","type":"quantitative"},"text":{"field":"t"}}},
{"data":{"values":[{"t":"**","pos":"-1500","y":6.5},{"t":"*","pos":"-1000","y":7.3},{"t":"**","pos":"-100","y":5.4},{"t":"*","pos":"100","y":6},{"t":"****","pos":"500","y":6.6},{"t":"**","pos":"1500","y":6.6}]},"mark":{"type":"text","baseline":"middle","dy":2,"fontSize":9},"encoding":{"y":{"field":"y","type":"quantitative"},"text":{"field":"t"}}},
{"data":{"values":[{"pos":"1000","pos2":"1500","y":5.9}]},"mark":{"type":"rule","color":"#888888","strokeWidth":0.8},"encoding":{"x2":{"field":"pos2"},"y":{"field":"y","type":"quantitative"}}}
]},
{"width":152,"height":101,"data":{"name":"J"},
"encoding":{"x":{"field":"pos","type":"ordinal","sort":["-2000","-1500","-1000","-500","-100","0","100","500","1000","1500","2000"],"scale":{"type":"point","padding":0.5,"domain":["-2000","-1500","-1000","-500","-100","0","100","500","1000","1500","2000"]},"axis":{"title":null}},
"y":{"field":"mean","type":"quantitative","scale":{"domain":[0,30],"nice":false},"axis":{"values":[0,10,20,30],"title":null}}},
"layer":[
{"mark":{"type":"errorbar","ticks":true},"encoding":{"yError":{"field":"sem"},"color":{"field":"geno","type":"nominal","legend":null}}},
{"mark":{"type":"line","strokeWidth":1.5},"encoding":{"color":{"field":"geno","type":"nominal","legend":null},"strokeDash":{"field":"geno","type":"nominal","legend":null}}},
{"mark":{"type":"point","filled":true,"opacity":1,"size":22},"encoding":{"color":{"field":"geno","type":"nominal","legend":null},"shape":{"field":"geno","type":"nominal","scale":{"domain":["WT","L253X/+","L253X/X"],"range":["circle","triangle-up","square"]},"legend":null}}},
{"data":{"name":"io"},"mark":{"type":"text","align":"left","baseline":"alphabetic","dy":-4,"fontSize":9.5,"color":"#333333"},"encoding":{"y":{"field":"y","type":"quantitative"},"text":{"field":"t"}}},
{"data":{"values":[{"t":"J","pos":"-2000","y":30}]},"mark":{"type":"text","align":"left","baseline":"alphabetic","dx":-4,"dy":17,"fontSize":35,"fontWeight":"bold"},"encoding":{"y":{"field":"y","type":"quantitative"},"text":{"field":"t"}}},
{"data":{"values":[{"t":"*","pos":"-2000","y":8}]},"mark":{"type":"text","baseline":"middle","dy":2,"fontSize":9},"encoding":{"y":{"field":"y","type":"quantitative"},"text":{"field":"t"}}}
]},
{"width":152,"height":101,"data":{"name":"K"},
"encoding":{"x":{"field":"pos","type":"ordinal","sort":["-2000","-1500","-1000","-500","-100","0","100","500","1000","1500","2000"],"scale":{"type":"point","padding":0.5,"domain":["-2000","-1500","-1000","-500","-100","0","100","500","1000","1500","2000"]},"axis":{"title":null}},
"y":{"field":"mean","type":"quantitative","scale":{"domain":[0,60],"nice":false},"axis":{"values":[0,20,40,60],"title":null}}},
"layer":[
{"mark":{"type":"errorbar","ticks":true},"encoding":{"yError":{"field":"sem"},"color":{"field":"geno","type":"nominal","legend":null}}},
{"mark":{"type":"line","strokeWidth":1.5},"encoding":{"color":{"field":"geno","type":"nominal","legend":null},"strokeDash":{"field":"geno","type":"nominal","legend":null}}},
{"mark":{"type":"point","filled":true,"opacity":1,"size":22},"encoding":{"color":{"field":"geno","type":"nominal","legend":null},"shape":{"field":"geno","type":"nominal","scale":{"domain":["WT","L253X/+","L253X/X"],"range":["circle","triangle-up","square"]},"legend":null}}},
{"data":{"name":"io"},"mark":{"type":"text","align":"left","baseline":"alphabetic","dy":-4,"fontSize":9.5,"color":"#333333"},"encoding":{"y":{"field":"y","type":"quantitative"},"text":{"field":"t"}}},
{"data":{"values":[{"t":"K","pos":"-2000","y":60}]},"mark":{"type":"text","align":"left","baseline":"alphabetic","dx":-4,"dy":17,"fontSize":35,"fontWeight":"bold"},"encoding":{"y":{"field":"y","type":"quantitative"},"text":{"field":"t"}}},
{"data":{"values":[{"t":"****","pos":"-2000","y":16.2},{"t":"**","pos":"-1500","y":24.8},{"t":"*","pos":"1000","y":27.3},{"t":"*","pos":"2000","y":17}]},"mark":{"type":"text","baseline":"middle","dy":2,"fontSize":9},"encoding":{"y":{"field":"y","type":"quantitative"},"text":{"field":"t"}}}
]},
{"width":152,"height":101,"data":{"name":"L"},
"encoding":{"x":{"field":"pos","type":"ordinal","sort":["-2000","-1500","-1000","-500","-100","0","100","500","1000","1500","2000"],"scale":{"type":"point","padding":0.5,"domain":["-2000","-1500","-1000","-500","-100","0","100","500","1000","1500","2000"]},"axis":{"title":null}},
"y":{"field":"mean","type":"quantitative","scale":{"domain":[0,40],"nice":false},"axis":{"values":[0,10,20,30,40],"title":null}}},
"layer":[
{"mark":{"type":"errorbar","ticks":true},"encoding":{"yError":{"field":"sem"},"color":{"field":"geno","type":"nominal","legend":null}}},
{"mark":{"type":"line","strokeWidth":1.5},"encoding":{"color":{"field":"geno","type":"nominal","legend":null},"strokeDash":{"field":"geno","type":"nominal","legend":null}}},
{"mark":{"type":"point","filled":true,"opacity":1,"size":22},"encoding":{"color":{"field":"geno","type":"nominal","legend":null},"shape":{"field":"geno","type":"nominal","scale":{"domain":["WT","L253X/+","L253X/X"],"range":["circle","triangle-up","square"]},"legend":null}}},
{"data":{"name":"io"},"mark":{"type":"text","align":"left","baseline":"alphabetic","dy":-4,"fontSize":9.5,"color":"#333333"},"encoding":{"y":{"field":"y","type":"quantitative"},"text":{"field":"t"}}},
{"data":{"values":[{"t":"L","pos":"-2000","y":40}]},"mark":{"type":"text","align":"left","baseline":"alphabetic","dx":-4,"dy":17,"fontSize":35,"fontWeight":"bold"},"encoding":{"y":{"field":"y","type":"quantitative"},"text":{"field":"t"}}}
]},
{"width":152,"height":101,"data":{"name":"M"},
"encoding":{"x":{"field":"pos","type":"ordinal","sort":["-2000","-1500","-1000","-500","-100","0","100","500","1000","1500","2000"],"scale":{"type":"point","padding":0.5,"domain":["-2000","-1500","-1000","-500","-100","0","100","500","1000","1500","2000"]},"axis":{"title":null}},
"y":{"field":"mean","type":"quantitative","scale":{"domain":[0,60],"nice":false},"axis":{"values":[0,20,40,60],"title":"3 mo."}}},
"layer":[
{"mark":{"type":"errorbar","ticks":true},"encoding":{"yError":{"field":"sem"},"color":{"field":"geno","type":"nominal","legend":null}}},
{"mark":{"type":"line","strokeWidth":1.5},"encoding":{"color":{"field":"geno","type":"nominal","legend":null},"strokeDash":{"field":"geno","type":"nominal","legend":null}}},
{"mark":{"type":"point","filled":true,"opacity":1,"size":22},"encoding":{"color":{"field":"geno","type":"nominal","legend":null},"shape":{"field":"geno","type":"nominal","scale":{"domain":["WT","L253X/+","L253X/X"],"range":["circle","triangle-up","square"]},"legend":null}}},
{"data":{"name":"io"},"mark":{"type":"text","align":"left","baseline":"alphabetic","dy":-4,"fontSize":9.5,"color":"#333333"},"encoding":{"y":{"field":"y","type":"quantitative"},"text":{"field":"t"}}},
{"data":{"values":[{"t":"M","pos":"-2000","y":60}]},"mark":{"type":"text","align":"left","baseline":"alphabetic","dx":-4,"dy":17,"fontSize":35,"fontWeight":"bold"},"encoding":{"y":{"field":"y","type":"quantitative"},"text":{"field":"t"}}},
{"data":{"values":[{"t":"****","pos":"-1000","y":14.5},{"t":"****","pos":"1000","y":17},{"t":"***","pos":"2000","y":10.3}]},"mark":{"type":"text","baseline":"middle","dy":2,"fontSize":9},"encoding":{"y":{"field":"y","type":"quantitative"},"text":{"field":"t"}}},
{"data":{"values":[{"pos":"-2000","pos2":"-100","y":12.9},{"pos":"100","pos2":"1500","y":15.4}]},"mark":{"type":"rule","color":"#888888","strokeWidth":0.8},"encoding":{"x2":{"field":"pos2"},"y":{"field":"y","type":"quantitative"}}}
]},
{"width":152,"height":101,"data":{"name":"N"},
"encoding":{"x":{"field":"pos","type":"ordinal","sort":["-2000","-1500","-1000","-500","-100","0","100","500","1000","1500","2000"],"scale":{"type":"point","padding":0.5,"domain":["-2000","-1500","-1000","-500","-100","0","100","500","1000","1500","2000"]},"axis":{"title":null}},
"y":{"field":"mean","type":"quantitative","scale":{"domain":[0,20],"nice":false},"axis":{"values":[0,5,10,15,20],"title":null}}},
"layer":[
{"mark":{"type":"errorbar","ticks":true},"encoding":{"yError":{"field":"sem"},"color":{"field":"geno","type":"nominal","legend":null}}},
{"mark":{"type":"line","strokeWidth":1.5},"encoding":{"color":{"field":"geno","type":"nominal","legend":null},"strokeDash":{"field":"geno","type":"nominal","legend":null}}},
{"mark":{"type":"point","filled":true,"opacity":1,"size":22},"encoding":{"color":{"field":"geno","type":"nominal","legend":null},"shape":{"field":"geno","type":"nominal","scale":{"domain":["WT","L253X/+","L253X/X"],"range":["circle","triangle-up","square"]},"legend":null}}},
{"data":{"name":"io"},"mark":{"type":"text","align":"left","baseline":"alphabetic","dy":-4,"fontSize":9.5,"color":"#333333"},"encoding":{"y":{"field":"y","type":"quantitative"},"text":{"field":"t"}}},
{"data":{"values":[{"t":"N","pos":"-2000","y":20}]},"mark":{"type":"text","align":"left","baseline":"alphabetic","dx":-4,"dy":17,"fontSize":35,"fontWeight":"bold"},"encoding":{"y":{"field":"y","type":"quantitative"},"text":{"field":"t"}}},
{"data":{"values":[{"t":"****","pos":"-1000","y":7.3},{"t":"**","pos":"100","y":8.8},{"t":"****","pos":"1000","y":6.9},{"t":"*","pos":"1500","y":5.1},{"t":"***","pos":"2000","y":2.8}]},"mark":{"type":"text","baseline":"middle","dy":2,"fontSize":9},"encoding":{"y":{"field":"y","type":"quantitative"},"text":{"field":"t"}}},
{"data":{"values":[{"pos":"-2000","pos2":"-100","y":6.7},{"pos":"100","pos2":"500","y":7.9}]},"mark":{"type":"rule","color":"#888888","strokeWidth":0.8},"encoding":{"x2":{"field":"pos2"},"y":{"field":"y","type":"quantitative"}}}
]},
{"width":152,"height":101,"data":{"name":"O"},
"encoding":{"x":{"field":"pos","type":"ordinal","sort":["-2000","-1500","-1000","-500","-100","0","100","500","1000","1500","2000"],"scale":{"type":"point","padding":0.5,"domain":["-2000","-1500","-1000","-500","-100","0","100","500","1000","1500","2000"]},"axis":{"title":"Distance from ONH (μm)","titleFontSize":28,"titleFontWeight":"bold","titlePadding":21,"titleX":94}},
"y":{"field":"mean","type":"quantitative","scale":{"domain":[0,30],"nice":false},"axis":{"values":[0,10,20,30],"title":null}}},
"layer":[
{"mark":{"type":"errorbar","ticks":true},"encoding":{"yError":{"field":"sem"},"color":{"field":"geno","type":"nominal","legend":null}}},
{"mark":{"type":"line","strokeWidth":1.5},"encoding":{"color":{"field":"geno","type":"nominal","legend":null},"strokeDash":{"field":"geno","type":"nominal","legend":null}}},
{"mark":{"type":"point","filled":true,"opacity":1,"size":22},"encoding":{"color":{"field":"geno","type":"nominal","legend":null},"shape":{"field":"geno","type":"nominal","scale":{"domain":["WT","L253X/+","L253X/X"],"range":["circle","triangle-up","square"]},"legend":null}}},
{"data":{"name":"io"},"mark":{"type":"text","align":"left","baseline":"alphabetic","dy":-4,"fontSize":9.5,"color":"#333333"},"encoding":{"y":{"field":"y","type":"quantitative"},"text":{"field":"t"}}},
{"data":{"values":[{"t":"O","pos":"-2000","y":30}]},"mark":{"type":"text","align":"left","baseline":"alphabetic","dx":-4,"dy":17,"fontSize":35,"fontWeight":"bold"},"encoding":{"y":{"field":"y","type":"quantitative"},"text":{"field":"t"}}}
]},
{"width":152,"height":101,"data":{"name":"P"},
"encoding":{"x":{"field":"pos","type":"ordinal","sort":["-2000","-1500","-1000","-500","-100","0","100","500","1000","1500","2000"],"scale":{"type":"point","padding":0.5,"domain":["-2000","-1500","-1000","-500","-100","0","100","500","1000","1500","2000"]},"axis":{"title":null}},
"y":{"field":"mean","type":"quantitative","scale":{"domain":[0,60],"nice":false},"axis":{"values":[0,20,40,60],"title":null}}},
"layer":[
{"mark":{"type":"errorbar","ticks":true},"encoding":{"yError":{"field":"sem"},"color":{"field":"geno","type":"nominal","legend":null}}},
{"mark":{"type":"line","strokeWidth":1.5},"encoding":{"color":{"field":"geno","type":"nominal","legend":null},"strokeDash":{"field":"geno","type":"nominal","legend":null}}},
{"mark":{"type":"point","filled":true,"opacity":1,"size":22},"encoding":{"color":{"field":"geno","type":"nominal","legend":null},"shape":{"field":"geno","type":"nominal","scale":{"domain":["WT","L253X/+","L253X/X"],"range":["circle","triangle-up","square"]},"legend":null}}},
{"data":{"name":"io"},"mark":{"type":"text","align":"left","baseline":"alphabetic","dy":-4,"fontSize":9.5,"color":"#333333"},"encoding":{"y":{"field":"y","type":"quantitative"},"text":{"field":"t"}}},
{"data":{"values":[{"t":"P","pos":"-2000","y":60}]},"mark":{"type":"text","align":"left","baseline":"alphabetic","dx":-4,"dy":17,"fontSize":35,"fontWeight":"bold"},"encoding":{"y":{"field":"y","type":"quantitative"},"text":{"field":"t"}}}
]},
{"width":152,"height":101,"data":{"name":"Q"},
"encoding":{"x":{"field":"pos","type":"ordinal","sort":["-2000","-1500","-1000","-500","-100","0","100","500","1000","1500","2000"],"scale":{"type":"point","padding":0.5,"domain":["-2000","-1500","-1000","-500","-100","0","100","500","1000","1500","2000"]},"axis":{"title":null}},
"y":{"field":"mean","type":"quantitative","scale":{"domain":[0,40],"nice":false},"axis":{"values":[0,10,20,30,40],"title":null}}},
"layer":[
{"mark":{"type":"errorbar","ticks":true},"encoding":{"yError":{"field":"sem"},"color":{"field":"geno","type":"nominal","legend":null}}},
{"mark":{"type":"line","strokeWidth":1.5},"encoding":{"color":{"field":"geno","type":"nominal","legend":null},"strokeDash":{"field":"geno","type":"nominal","legend":null}}},
{"mark":{"type":"point","filled":true,"opacity":1,"size":22},"encoding":{"color":{"field":"geno","type":"nominal","legend":null},"shape":{"field":"geno","type":"nominal","scale":{"domain":["WT","L253X/+","L253X/X"],"range":["circle","triangle-up","square"]},"legend":null}}},
{"data":{"name":"io"},"mark":{"type":"text","align":"left","baseline":"alphabetic","dy":-4,"fontSize":9.5,"color":"#333333"},"encoding":{"y":{"field":"y","type":"quantitative"},"text":{"field":"t"}}},
{"data":{"values":[{"t":"Q","pos":"-2000","y":40}]},"mark":{"type":"text","align":"left","baseline":"alphabetic","dx":-4,"dy":17,"fontSize":35,"fontWeight":"bold"},"encoding":{"y":{"field":"y","type":"quantitative"},"text":{"field":"t"}}}
]}
],
"config":{
"view":{"stroke":null},
"font":"Liberation Sans",
"axis":{"domainColor":"#000000","domainWidth":1.5,"tickColor":"#000000","tickWidth":1.2,"tickSize":4,"labelFontSize":7,"labelColor":"#000000","grid":false,"titleColor":"#000000"},
"axisX":{"labelAngle":270,"labelFontWeight":"bold","labelPadding":2},
"axisY":{"labelPadding":1,"titleFontSize":30,"titleFontWeight":"bold","titlePadding":26},
"text":{"color":"#000000"}
}
}
